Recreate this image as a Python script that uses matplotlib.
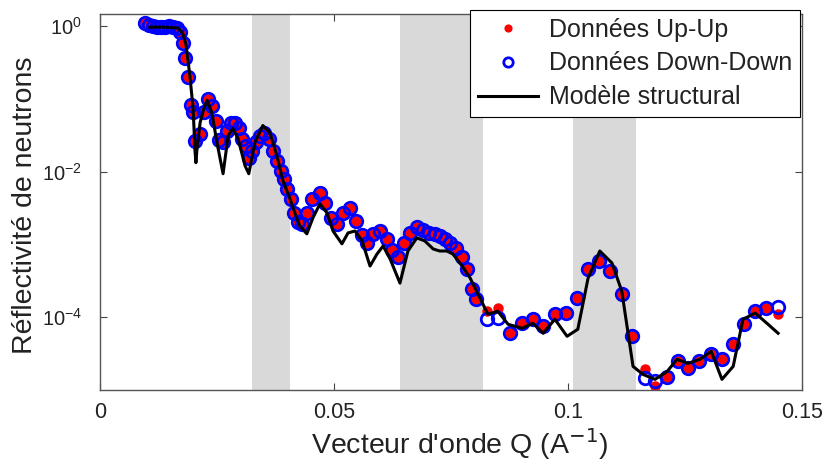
import numpy as np
import matplotlib
matplotlib.use("Agg")
import matplotlib.pyplot as plt

plt.rcParams['font.family'] = ['Liberation Sans', 'DejaVu Sans']

# Donnees mesurees (Q en A^-1)
q_data = [0.0096, 0.0105, 0.0113, 0.0122, 0.0130, 0.0139, 0.0147, 0.0156, 0.0165, 0.0171,
          0.0177, 0.0182, 0.0188, 0.0194, 0.0199, 0.0203, 0.0214, 0.0222, 0.0231, 0.0239,
          0.0248, 0.0254, 0.0263, 0.0271, 0.0280, 0.0288, 0.0297, 0.0303, 0.0312, 0.0318,
          0.0325, 0.0333, 0.0342, 0.0350, 0.0361, 0.0370, 0.0378, 0.0387, 0.0393, 0.0400,
          0.0408, 0.0415, 0.0423, 0.0432, 0.0442, 0.0453, 0.0470, 0.0481, 0.0494, 0.0506,
          0.0519, 0.0534, 0.0547, 0.0560, 0.0571, 0.0583, 0.0598, 0.0613, 0.0624, 0.0637,
          0.0650, 0.0662, 0.0677, 0.0690, 0.0703, 0.0716, 0.0727, 0.0737, 0.0748, 0.0761,
          0.0774, 0.0784, 0.0795, 0.0803, 0.0827, 0.0850, 0.0876, 0.0902, 0.0925, 0.0947,
          0.0972, 0.0996, 0.1019, 0.1043, 0.1066, 0.1090, 0.1115, 0.1137, 0.1165, 0.1186,
          0.1212, 0.1235, 0.1256, 0.1280, 0.1306, 0.1329, 0.1353, 0.1376, 0.1400, 0.1423,
          0.1449]

r_up = [1.10, 1.03, 1.00, 0.97, 0.97, 0.97, 1.00, 0.97, 0.94, 0.83,
        0.58, 0.37, 0.198, 0.0813, 0.0651, 0.0268, 0.0334, 0.0651, 0.0984, 0.0788,
        0.0490, 0.0276, 0.0259, 0.0368, 0.0474, 0.0474, 0.0404, 0.0285, 0.0228, 0.0156,
        0.0195, 0.0259, 0.0314, 0.0345, 0.0285, 0.0195, 0.0142, 0.0103, 0.0080, 0.00583,
        0.00424, 0.00272, 0.00204, 0.00192, 0.00272, 0.00424, 0.00513, 0.00373, 0.00232, 0.00192,
        0.00272, 0.00319, 0.00211, 0.00135, 0.00105, 0.00140, 0.00153, 0.00119, 0.00084, 0.000672,
        0.00105, 0.00144, 0.00174, 0.00158, 0.00144, 0.00140, 0.00131, 0.00119, 0.00105, 0.000895,
        0.000672, 0.000459, 0.000243, 0.000177, 1.21e-4, 1.33e-4, 6.02e-5, 8.26e-5, 9.38e-5, 7.51e-5,
        1.10e-4, 1.14e-4, 1.83e-4, 4.59e-4, 5.92e-4, 4.31e-4, 2.08e-4, 5.47e-5, 1.92e-5, 1.12e-5,
        1.53e-5, 2.47e-5, 1.98e-5, 2.47e-5, 3.09e-5, 2.64e-5, 4.25e-5, 8.00e-5, 1.21e-4, 1.33e-4,
        1.10e-4]

r_down = [1.10, 1.03, 1.00, 0.97, 0.97, 0.97, 1.00, 0.97, 0.94, 0.83,
          0.58, 0.37, 0.198, 0.0813, 0.0651, 0.0268, 0.0334, 0.0651, 0.0984, 0.0788,
          0.0490, 0.0276, 0.0259, 0.0368, 0.0474, 0.0474, 0.0404, 0.0285, 0.0228, 0.0156,
          0.0195, 0.0259, 0.0314, 0.0345, 0.0285, 0.0195, 0.0142, 0.0103, 0.0080, 0.00583,
          0.00424, 0.00272, 0.00204, 0.00192, 0.00272, 0.00424, 0.00513, 0.00373, 0.00232, 0.00192,
          0.00272, 0.00319, 0.00211, 0.00135, 0.00105, 0.00140, 0.00153, 0.00119, 0.00084, 0.000672,
          0.00105, 0.00144, 0.00174, 0.00158, 0.00144, 0.00140, 0.00131, 0.00119, 0.00105, 0.000895,
          0.000672, 0.000459, 0.000243, 0.000177, 9.38e-5, 9.69e-5, 6.02e-5, 8.26e-5, 9.38e-5, 7.51e-5,
          1.10e-4, 1.14e-4, 1.83e-4, 4.59e-4, 5.92e-4, 4.31e-4, 2.08e-4, 5.47e-5, 1.44e-5, 1.31e-5,
          1.53e-5, 2.47e-5, 1.98e-5, 2.47e-5, 3.09e-5, 2.64e-5, 4.25e-5, 8.00e-5, 1.21e-4, 1.33e-4,
          1.37e-4]

# Modele structural
q_model = [0.0107, 0.0139, 0.0167, 0.0177, 0.0184, 0.0192, 0.0199, 0.0203, 0.0205, 0.0207,
           0.0214, 0.0222, 0.0229, 0.0239, 0.0250, 0.0263, 0.0274, 0.0284, 0.0295, 0.0310,
           0.0318, 0.0331, 0.0348, 0.0363, 0.0378, 0.0391, 0.0406, 0.0421, 0.0427, 0.0442,
           0.0455, 0.0470, 0.0485, 0.0498, 0.0517, 0.0530, 0.0545, 0.0560, 0.0577, 0.0592,
           0.0605, 0.0620, 0.0641, 0.0658, 0.0677, 0.0694, 0.0712, 0.0726, 0.0741, 0.0754,
           0.0774, 0.0791, 0.0812, 0.0829, 0.0850, 0.0872, 0.0902, 0.0925, 0.0947, 0.0972,
           0.0998, 0.1021, 0.1043, 0.1068, 0.1094, 0.1115, 0.1139, 0.1160, 0.1186, 0.1212,
           0.1233, 0.1256, 0.1282, 0.1306, 0.1329, 0.1353, 0.1374, 0.1400, 0.1425, 0.1449]
r_model = [0.97, 0.97, 0.94, 0.80, 0.55, 0.21, 0.0740, 0.0195, 0.0133, 0.0195,
           0.0474, 0.0740, 0.0953, 0.0651, 0.0251, 0.00938, 0.0314, 0.0392, 0.0285, 0.0121,
           0.00938, 0.0251, 0.0431, 0.0345, 0.0166, 0.00751, 0.00424, 0.00225, 0.00180, 0.00140,
           0.00232, 0.00362, 0.00272, 0.00153, 0.00102, 0.00144, 0.00153, 0.00112, 0.000505, 0.00074,
           0.000953, 0.000631, 0.000294, 0.000813, 0.00123, 0.00112, 0.000867, 0.000813, 0.000813, 0.00074,
           0.000505, 0.000345, 0.000183, 0.000110, 0.000121, 8.00e-5, 7.05e-5, 8.26e-5, 6.02e-5, 9.38e-5,
           5.47e-5, 6.83e-5, 3.45e-4, 8.13e-4, 5.56e-4, 2.28e-4, 2.11e-5, 1.64e-5, 1.40e-5, 1.80e-5,
           2.64e-5, 2.32e-5, 2.64e-5, 3.40e-5, 1.40e-5, 2.11e-5, 9.38e-5, 1.14e-4, 8.26e-5, 6.02e-5]

# Zones grisees
bands = [(0.0325, 0.0406), (0.0641, 0.0818), (0.1011, 0.1145)]

fig = plt.figure(figsize=(8.29, 4.68), dpi=100)
ax = fig.add_axes([0.1206, 0.1667, 0.8468, 0.8034])

for a, b in bands:
    ax.axvspan(a, b, color='#d9d9d9', lw=0, zorder=0)

ax.plot(q_data, r_up, 'o', color='red', ms=6.5, mec='red', label='Données Up-Up', zorder=2)
ax.plot(q_data, r_down, 'o', mfc='none', mec='blue', ms=9, mew=2.0,
        label='Données Down-Down', zorder=3)
ax.plot(q_model, r_model, '-', color='black', lw=2.2, label='Modèle structural', zorder=4)

ax.set_yscale('log')
ax.set_xlim(0, 0.15)
ax.set_ylim(1e-5, 1.47)
ax.set_xticks([0, 0.05, 0.1, 0.15])
ax.set_xticklabels(['0', '0.05', '0.1', '0.15'])
ax.set_yticks([1e-4, 1e-2, 1e0])
ax.yaxis.set_minor_locator(matplotlib.ticker.NullLocator())
ax.tick_params(direction='in', length=5, width=0.8, top=True, right=True,
               labelsize=15.5, colors='#444444', labelcolor='#222222')
ax.tick_params(axis='x', pad=9)
ax.tick_params(axis='y', pad=13, labelsize=14.5)
for s in ax.spines.values():
    s.set_color('#555555')
    s.set_linewidth(1.0)

ax.set_xlabel("Vecteur d'onde Q (A$^{-1}$)", fontsize=20.5, color='#222222')
ax.set_ylabel('Réflectivité de neutrons', fontsize=20.5, color='#222222')
ax.xaxis.set_label_coords(0.513, -0.095)
ax.yaxis.set_label_coords(-0.088, 0.49)

leg = ax.legend(loc='upper right', bbox_to_anchor=(800 / 829, 1 - 10 / 468),
                bbox_transform=fig.transFigure, fontsize=18, frameon=True,
                fancybox=False, framealpha=1, edgecolor='black', handlelength=2.4,
                markerscale=0.75, borderpad=0.3, labelspacing=0.4, handletextpad=0.45,
                borderaxespad=0)
leg.get_frame().set_linewidth(0.8)
for t in leg.get_texts():
    t.set_color('#222222')

fig.savefig('out.png', dpi=100)
